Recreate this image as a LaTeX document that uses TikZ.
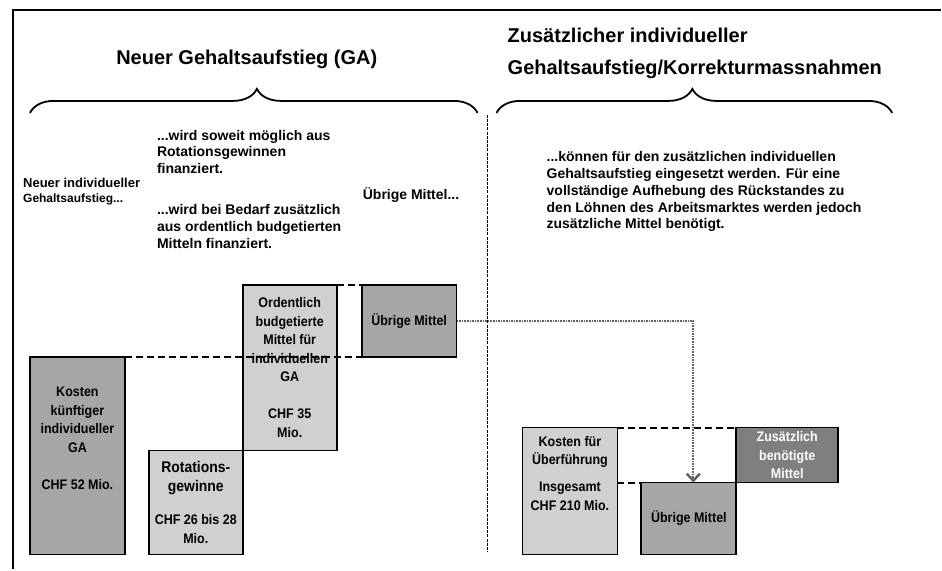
\documentclass[tikz,border=0pt]{standalone}
\usepackage{fontspec}
\setmainfont{Liberation Sans}
\newfontfamily\boxfont[FakeStretch=0.9]{Liberation Sans}
\usepackage{tikz}
\usetikzlibrary{positioning,arrows.meta,decorations.pathreplacing}
\definecolor{box-light}{HTML}{D0D0D0}
\definecolor{box-dark}{HTML}{A6A6A6}
\definecolor{box-darker}{HTML}{7F7F7F}
\tikzset{
    cost-box/.style = {draw=black, line width=1.8pt, rectangle, inner sep=0pt, outer sep=0pt, align=center, font=\boxfont\fontsize{13.9}{18.5}\selectfont\bfseries},
    light-box/.style = {cost-box, fill=box-light},
    dark-box/.style = {cost-box, fill=box-dark},
    darker-box/.style = {cost-box, fill=box-darker, text=white},
    box-text/.style = {inner sep=0pt, align=center, font=\boxfont\fontsize{13.9}{18.5}\selectfont\bfseries},
    body-text/.style = {inner sep=0pt, align=left, anchor=north west, font=\fontsize{14}{16.7}\selectfont\bfseries},
    title-text/.style = {inner sep=0pt, align=left, font=\fontsize{20}{32}\selectfont\bfseries},
    level-line/.style = {line width=2pt, dash pattern=on 7pt off 4pt},
    flow-arrow/.style = {draw=black!62, line width=2pt, dash pattern=on 1.6pt off 1pt, -{Straight Barb[length=7pt,width=13pt,line width=2.5pt]}},
    brace-line/.style = {line width=1.8pt, decorate, decoration={brace, amplitude=24pt}},
}

\begin{document}
\begin{tikzpicture}[x=1pt, y=-1pt]
\fill[white] (0,0) rectangle (942,570);
\draw[line width=1.8pt] (13,570) -- (13,10) -- (942,10);
\draw[line width=1.8pt, dash pattern=on 3pt off 1.2pt] (488,115) -- (488,553);

\node[title-text, anchor=base] (title-ga) at (247,65) {Neuer Gehaltsaufstieg (GA)};
\node[title-text, anchor=north west] (title-zus) at (508,28) {Zusätzlicher individueller\\Gehaltsaufstieg/Korrekturmassnahmen};
\draw[brace-line, decoration={aspect=0.507}] (30,113) -- (478,113);
\draw[brace-line, decoration={aspect=0.495}] (497,113) -- (893,113);

\node[body-text, font=\fontsize{13}{15}\selectfont\bfseries] (neuer-txt) at (23,178) {Neuer individueller\\{\fontsize{12}{15}\selectfont Gehaltsaufstieg...}};
\node[body-text] (rot-txt) at (157,129.8) {...wird soweit möglich aus\\Rotationsgewinnen\\finanziert.};
\node[body-text] (bedarf-txt) at (157,204.8) {...wird bei Bedarf zusätzlich\\aus ordentlich budgetierten\\Mitteln finanziert.};
\node[body-text, anchor=base west] (uebrig-txt) at (363,200) {Übrige Mittel...};
\node[body-text] (rest-txt) at (547,151.8) {...können für den zusätzlichen individuellen\\Gehaltsaufstieg eingesetzt werden. Für eine\\vollständige Aufhebung des Rückstandes zu\\den Löhnen des Arbeitsmarktes werden jedoch\\zusätzliche Mittel benötigt.};

\node[dark-box, minimum width=95pt, minimum height=198pt, anchor=south west] (kosten-l) at (30,555) {};
\node[box-text, below=30.5pt of kosten-l.north] (kosten-l-txt) {Kosten\\künftiger\\individueller\\GA\\[18.5pt]CHF 52 Mio.};
\node[light-box, minimum width=94pt, minimum height=104pt, anchor=south west] (rot) at (149,555) {{\fontsize{15.5}{20}\selectfont Rotations-}\\{\fontsize{15.5}{20}\selectfont gewinne}\\[15pt]CHF 26 bis 28\\Mio.};
\node[light-box, minimum width=94pt, minimum height=166pt, anchor=south west] (ord) at (rot.north east) {Ordentlich\\budgetierte\\Mittel für\\individuellen\\GA\\[18.5pt]CHF 35\\Mio.};
\node[dark-box, minimum width=95pt, minimum height=72pt, anchor=north west] (uebrig-l) at ([xshift=25pt]ord.north east) {Übrige Mittel};

\node[light-box, minimum width=95pt, minimum height=127pt, anchor=south west] (kosten-r) at (523,555) {};
\node[box-text, below=8.4pt of kosten-r.north] (kosten-r-txt) {Kosten für\\Überführung\\[8.5pt]Insgesamt\\CHF 210 Mio.};
\node[dark-box, minimum width=95pt, minimum height=72pt, anchor=south west] (uebrig-r) at ([xshift=24pt]kosten-r.south east) {Übrige Mittel};
\node[darker-box, minimum width=102pt, minimum height=55pt, anchor=south west] (zus) at (uebrig-r.north east) {Zusätzlich\\benötigte\\Mittel};

\draw[level-line] (kosten-l.north east) -- (uebrig-l.south west);
\draw[level-line] (ord.north east) -- (uebrig-l.north west);
\draw[level-line] (kosten-r.north east) -- (zus.north west);
\draw[level-line] (kosten-r.east |- uebrig-r.north west) -- (uebrig-r.north west);
\draw[flow-arrow] (uebrig-l.east) -| ([xshift=4.5pt]uebrig-r.north);
\end{tikzpicture}
\end{document}
